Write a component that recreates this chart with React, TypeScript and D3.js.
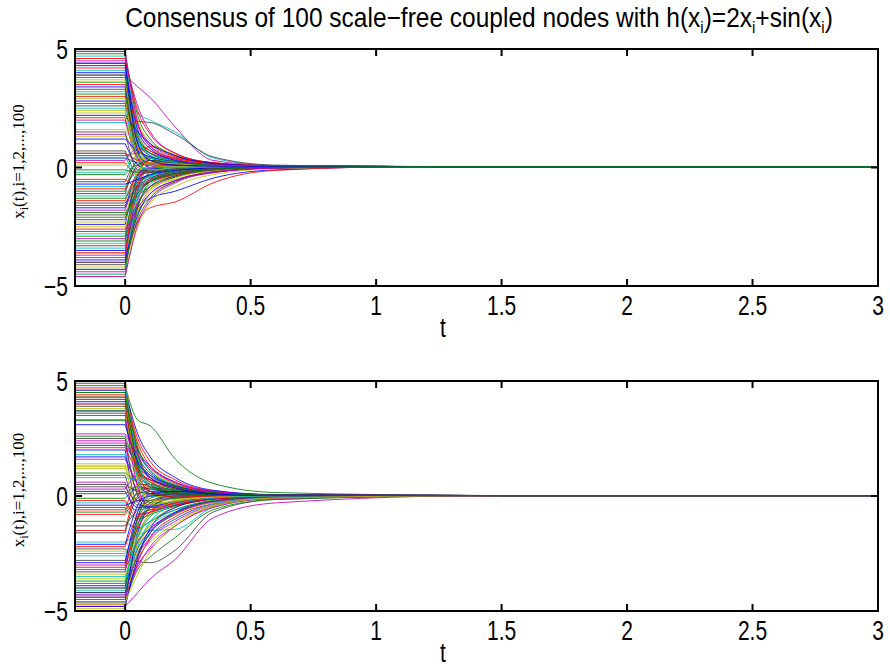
import React from 'react';
import * as d3 from 'd3';

const sampleTimes = [0, 0.05, 0.1, 0.2, 0.35, 0.6];
const xTicks = [0, 0.5, 1, 1.5, 2, 2.5, 3];
const yTicks = [-5, 0, 5];
// MATLAB's old default colour order
const lineColors = ['#0000ff', '#008000', '#ff0000', '#00bfbf', '#bf00bf', '#bfbf00', '#404040'];

const topConsensus = 0.04;
const topSettle = 1.2;
const bottomConsensus = 0.02;
const bottomSettle = 1.5;

// each row: x_i at t = 0, 0.05, 0.1, 0.2, 0.35, 0.6
const topNodes = [
  [-3.5, -1.9, -1.3, -1.0, -0.45, -0.1],
  [4.9, 1.2, 0.6, 0.3, 0.12, 0.05],
  [-4.0, -2.3, -1.7, -1.45, -0.65, -0.12],
  [3.2, 2.3, 2.0, 1.5, 0.4, 0.08],
  [3.9, 3.4, 2.95, 1.7, 0.3, 0.08],
  [-4.5, -2.5, -1.5, -0.8, -0.3, -0.05],
  [2.6, 1.95, 1.9, 1.4, 0.45, 0.1],
  [0.4, 0.2, 0.1, 0.05, 0.03, 0.03],
  [-2.9, -0.8, -0.3, -0.1, 0.0, 0.03],
  [2.1, 0.6, 0.9, 0.5, 0.2, 0.06],
  [-1.2, -0.4, -0.1, 0.05, 0.05, 0.04],
  [4.4, 1.8, 0.9, 0.4, 0.15, 0.06],
  [1.6, 0.9, 0.5, 0.2, 0.1, 0.05],
  [-0.6, 0.2, 0.15, 0.1, 0.05, 0.04],
  [-4.3, -1.6, -0.8, -0.35, -0.1, 0.0],
  [3.6, 0.4, -0.2, -0.1, 0.0, 0.03],
  [-2.6, -1.1, -0.6, -0.3, -0.1, 0.01],
  [0.6, -0.5, -0.4, -0.2, -0.05, 0.02],
  [-3.8, -1.3, -0.6, -0.25, -0.08, 0.01],
  [4.6, 2.0, 1.1, 0.55, 0.2, 0.07],
  [-1.6, -0.9, -0.5, -0.25, -0.08, 0.01],
  [2.8, 0.5, 0.2, 0.1, 0.05, 0.04],
  [-0.3, 0.1, 0.1, 0.06, 0.04, 0.04],
  [4.2, 1.4, 0.7, 0.35, 0.15, 0.06],
  [-3.2, -0.6, 0.1, 0.15, 0.08, 0.05],
  [1.4, 0.5, 0.3, 0.15, 0.08, 0.05],
  [-4.6, -2.1, -1.2, -0.6, -0.22, -0.03],
  [-2.2, -0.7, -0.35, -0.15, -0.04, 0.02],
  [3.4, 1.1, 0.5, 0.2, 0.1, 0.05],
  [-1.0, 0.3, 0.4, 0.2, 0.08, 0.05],
  [0.2, -0.3, -0.2, -0.1, 0.0, 0.03],
  [4.7, 1.5, 0.6, 0.2, 0.08, 0.05],
  [-3.0, -1.5, -0.9, -0.4, -0.12, 0.0],
  [2.3, 1.3, 0.8, 0.4, 0.15, 0.06],
  [-4.1, -1.0, -0.2, 0.1, 0.06, 0.04],
  [1.0, 0.1, -0.1, -0.05, 0.02, 0.03],
  [-1.9, -1.2, -0.8, -0.4, -0.12, 0.0],
  [3.0, 0.8, 0.3, 0.1, 0.05, 0.04],
  [-0.8, -0.1, 0.2, 0.15, 0.07, 0.05],
  [4.5, 2.6, 1.5, 0.6, 0.2, 0.07],
  [-3.6, -1.8, -1.0, -0.45, -0.15, 0.0],
  [0.5, 0.6, 0.4, 0.2, 0.08, 0.05],
  [-2.4, -0.5, -0.05, 0.1, 0.06, 0.04],
  [3.8, 1.0, 0.3, 0.05, 0.02, 0.03],
  [-1.4, -0.2, 0.3, 0.2, 0.08, 0.05],
  [2.5, 0.3, -0.3, -0.2, -0.05, 0.02],
  [-4.4, -1.4, -0.5, -0.1, 0.0, 0.03],
  [1.3, 0.7, 0.4, 0.2, 0.09, 0.05],
  [-3.3, -1.6, -0.8, -0.35, -0.1, 0.01],
  [4.0, 0.7, 0.0, -0.1, 0.0, 0.03],
  [-0.1, -0.2, -0.1, 0.0, 0.03, 0.04],
  [2.7, 1.2, 0.7, 0.4, 0.15, 0.06],
  [-2.8, -1.3, -0.7, -0.3, -0.08, 0.01],
  [0.3, 0.8, 0.6, 0.3, 0.1, 0.05],
  [-4.2, -1.9, -0.9, -0.3, -0.05, 0.02],
  [3.3, 0.9, 0.4, 0.2, 0.08, 0.05],
  [-1.7, -0.3, 0.0, 0.05, 0.04, 0.04],
  [4.8, 2.2, 1.2, 0.5, 0.18, 0.07],
  [-0.5, -0.8, -0.6, -0.3, -0.08, 0.01],
  [1.9, 1.0, 0.6, 0.3, 0.12, 0.05],
  [-3.7, -0.9, 0.0, 0.2, 0.1, 0.05],
  [0.1, 0.4, 0.3, 0.15, 0.07, 0.05],
  [-2.0, -1.0, -0.55, -0.25, -0.07, 0.01],
  [4.3, 1.6, 0.8, 0.3, 0.1, 0.05],
  [-1.3, -0.6, -0.3, -0.1, 0.0, 0.03],
  [3.5, 1.8, 1.0, 0.45, 0.17, 0.06],
  [-4.5, -1.2, -0.3, 0.0, 0.03, 0.04],
  [2.0, 0.4, 0.1, 0.05, 0.04, 0.04],
  [-2.5, -1.4, -0.9, -0.5, -0.18, -0.02],
  [0.7, -0.2, -0.2, -0.1, 0.0, 0.03],
  [-3.9, -2.0, -1.1, -0.55, -0.2, -0.02],
  [3.1, 0.6, 0.1, 0.0, 0.02, 0.03],
  [-0.9, 0.0, 0.2, 0.12, 0.06, 0.04],
  [4.1, 1.2, 0.5, 0.2, 0.09, 0.05],
  [-1.8, -0.4, 0.1, 0.12, 0.06, 0.04],
  [2.4, 0.2, -0.1, -0.05, 0.02, 0.03],
  [-4.0, -2.2, -1.3, -0.6, -0.2, -0.02],
  [1.2, 0.7, 0.45, 0.25, 0.1, 0.05],
  [-3.1, -0.3, 0.3, 0.2, 0.08, 0.05],
  [4.6, 2.4, 1.4, 0.6, 0.2, 0.07],
  [-0.2, 0.5, 0.4, 0.2, 0.08, 0.05],
  [-2.7, -1.7, -1.1, -0.55, -0.18, -0.01],
  [3.7, 0.9, 0.2, 0.05, 0.03, 0.04],
  [-1.1, 0.1, 0.3, 0.15, 0.07, 0.05],
  [2.2, 1.5, 1.0, 0.5, 0.18, 0.06],
  [-4.3, -1.7, -0.6, -0.15, 0.0, 0.03],
  [0.6, 0.3, 0.2, 0.1, 0.05, 0.04],
  [-3.4, -1.0, -0.4, -0.1, 0.02, 0.03],
  [4.9, 1.9, 0.9, 0.35, 0.12, 0.05],
  [-2.3, -0.2, 0.2, 0.15, 0.07, 0.05],
  [1.5, -0.1, -0.15, -0.05, 0.02, 0.03],
  [-0.7, -0.5, -0.3, -0.12, -0.02, 0.02],
  [3.9, 1.3, 0.6, 0.25, 0.1, 0.05],
  [-3.6, -0.7, 0.0, 0.1, 0.06, 0.04],
  [0.4, -0.1, 0.0, 0.03, 0.03, 0.04],
  [-4.6, -2.4, -1.4, -0.65, -0.22, -0.02],
  [2.9, 0.5, 0.1, 0.02, 0.03, 0.04],
  [-1.5, -0.8, -0.45, -0.2, -0.05, 0.02],
  [4.4, 1.0, 0.3, 0.1, 0.05, 0.04],
  [-2.1, -1.1, -0.6, -0.28, -0.08, 0.01],
];

const bottomNodes = [
  [4.1, 1.8, 1.0, 0.45, 0.15, 0.04],
  [4.8, 3.3, 3.05, 1.6, 0.55, 0.15],
  [-4.7, -2.9, -1.8, -0.9, -0.35, -0.08],
  [-2.0, -1.7, -1.5, -1.45, -0.5, -0.1],
  [-4.8, -4.2, -3.6, -2.75, -0.95, -0.3],
  [5.0, 2.2, 1.2, 0.5, 0.15, 0.04],
  [-2.3, -2.85, -2.9, -2.35, -0.7, -0.15],
  [1.7, 0.5, 0.1, -0.1, -0.05, 0.0],
  [-4.6, -3.2, -2.65, -1.8, -0.6, -0.15],
  [4.3, 1.2, 0.4, 0.1, 0.03, 0.02],
  [-0.3, -0.6, -0.5, -0.3, -0.1, 0.0],
  [2.4, 1.3, 0.8, 0.4, 0.14, 0.04],
  [-3.7, -2.1, -1.2, -0.6, -0.2, -0.03],
  [0.9, -0.4, -0.4, -0.2, -0.05, 0.01],
  [-4.2, -2.5, -1.6, -0.8, -0.28, -0.05],
  [3.3, 0.9, 0.2, -0.05, 0.0, 0.02],
  [-0.6, 0.5, 0.5, 0.3, 0.1, 0.03],
  [4.5, 2.0, 1.1, 0.5, 0.16, 0.04],
  [-3.0, -1.2, -0.4, 0.0, 0.03, 0.02],
  [1.3, 1.0, 0.7, 0.35, 0.12, 0.04],
  [-4.4, -1.8, -0.8, -0.3, -0.08, 0.0],
  [2.0, -0.3, -0.5, -0.3, -0.08, 0.0],
  [-1.1, -1.4, -1.1, -0.6, -0.2, -0.03],
  [4.7, 1.5, 0.6, 0.2, 0.06, 0.02],
  [-3.5, -2.0, -1.3, -0.7, -0.25, -0.04],
  [0.3, 0.9, 0.7, 0.4, 0.13, 0.04],
  [-4.9, -2.0, -0.9, -0.3, -0.07, 0.0],
  [3.6, 1.1, 0.4, 0.1, 0.03, 0.02],
  [-2.1, -0.4, 0.2, 0.25, 0.1, 0.03],
  [3.3, 1.6, 0.9, 0.4, 0.13, 0.04],
  [-0.8, -0.1, 0.1, 0.1, 0.05, 0.02],
  [4.0, 0.7, -0.3, -0.3, -0.08, 0.0],
  [-4.0, -2.6, -1.8, -1.0, -0.35, -0.06],
  [1.2, 0.3, 0.0, -0.05, 0.0, 0.02],
  [-3.3, -0.9, -0.1, 0.15, 0.07, 0.03],
  [2.2, 1.4, 0.9, 0.45, 0.15, 0.04],
  [-0.5, -1.0, -0.8, -0.45, -0.15, -0.02],
  [4.4, 2.5, 1.5, 0.7, 0.22, 0.05],
  [-4.3, -1.5, -0.3, 0.1, 0.05, 0.02],
  [0.6, -0.8, -0.7, -0.4, -0.12, -0.01],
  [-2.4, -1.9, -1.4, -0.8, -0.28, -0.05],
  [3.9, 1.3, 0.5, 0.15, 0.04, 0.02],
  [-3.9, -2.3, -1.5, -0.7, -0.22, -0.03],
  [1.0, 0.6, 0.4, 0.2, 0.07, 0.03],
  [-1.5, 0.2, 0.4, 0.25, 0.09, 0.03],
  [4.2, 0.8, 0.0, -0.1, -0.02, 0.01],
  [-4.5, -2.8, -1.9, -1.1, -0.4, -0.08],
  [1.4, 0.2, -0.3, -0.25, -0.07, 0.0],
  [-2.8, -1.0, -0.3, 0.0, 0.03, 0.02],
  [3.7, 2.0, 1.3, 0.6, 0.2, 0.05],
  [-0.1, 0.3, 0.3, 0.15, 0.06, 0.03],
  [4.9, 1.9, 0.7, 0.15, 0.04, 0.02],
  [-4.1, -2.2, -1.1, -0.4, -0.12, -0.01],
  [2.3, 0.1, -0.4, -0.3, -0.09, 0.0],
  [-3.4, -2.6, -2.0, -1.2, -0.4, -0.07],
  [0.4, -0.2, -0.2, -0.1, -0.02, 0.01],
  [-4.6, -1.6, -0.5, -0.05, 0.02, 0.02],
  [3.7, 1.7, 0.8, 0.3, 0.09, 0.03],
  [-2.2, -0.9, -0.6, -0.35, -0.12, -0.02],
  [1.8, 0.9, 0.5, 0.2, 0.07, 0.03],
  [-4.3, -3.1, -2.2, -1.3, -0.45, -0.09],
  [4.6, 1.0, 0.1, -0.1, -0.02, 0.01],
  [-1.6, 0.0, 0.35, 0.25, 0.09, 0.03],
  [0.2, -0.5, -0.45, -0.25, -0.08, 0.0],
  [-3.8, -1.3, -0.5, -0.1, 0.0, 0.02],
  [4.2, 2.3, 1.3, 0.55, 0.18, 0.05],
  [-2.5, -1.6, -1.1, -0.6, -0.2, -0.03],
  [1.6, 0.6, 0.2, 0.0, 0.01, 0.02],
  [-4.7, -2.4, -1.2, -0.5, -0.15, -0.02],
  [2.5, 0.0, -0.6, -0.4, -0.12, -0.01],
  [-0.4, -0.2, 0.0, 0.05, 0.03, 0.02],
  [4.5, 1.4, 0.5, 0.1, 0.03, 0.02],
  [-3.1, -1.4, -0.7, -0.3, -0.08, 0.0],
  [0.8, 0.7, 0.5, 0.25, 0.08, 0.03],
  [-4.4, -3.0, -2.3, -1.3, -0.5, -0.1],
  [3.8, 0.6, -0.2, -0.15, -0.04, 0.01],
  [-1.3, -0.6, -0.2, 0.0, 0.02, 0.02],
  [4.6, 2.7, 1.7, 0.8, 0.25, 0.06],
  [-4.0, -1.0, 0.0, 0.2, 0.08, 0.03],
  [2.1, 1.1, 0.7, 0.35, 0.11, 0.03],
  [-2.6, -2.2, -1.7, -1.0, -0.35, -0.06],
  [3.5, 0.4, -0.5, -0.4, -0.12, -0.01],
  [-3.6, -1.7, -0.8, -0.25, -0.05, 0.01],
  [0.1, 0.4, 0.3, 0.15, 0.05, 0.03],
  [-4.8, -2.7, -1.4, -0.5, -0.13, -0.01],
  [2.6, 1.2, 0.6, 0.25, 0.08, 0.03],
  [-0.2, -0.9, -0.7, -0.4, -0.13, -0.02],
  [4.9, 1.6, 0.4, 0.0, 0.01, 0.02],
  [-3.2, -2.0, -1.4, -0.75, -0.25, -0.04],
  [1.3, -0.3, -0.4, -0.2, -0.05, 0.01],
  [-4.2, -2.6, -1.6, -0.75, -0.22, -0.03],
  [3.1, 1.5, 0.8, 0.35, 0.11, 0.03],
  [-0.7, 0.1, 0.2, 0.12, 0.05, 0.02],
  [4.0, 1.0, 0.2, -0.05, 0.0, 0.02],
  [-3.7, -1.8, -0.9, -0.35, -0.09, 0.0],
  [2.7, 1.8, 1.2, 0.6, 0.2, 0.05],
  [-4.6, -3.4, -2.4, -1.3, -0.45, -0.09],
  [0.5, 0.2, 0.1, 0.05, 0.03, 0.02],
  [-2.9, -0.7, 0.1, 0.2, 0.08, 0.03],
  [4.3, 2.1, 1.1, 0.45, 0.14, 0.04],
];

const W = 890;
const H = 668;
const left = 75;
const right = 878;
const sans = "'Liberation Sans', Arial, sans-serif";
const serif = "'Liberation Serif', 'Times New Roman', serif";

// the figure's text is drawn a bit taller than it is wide
function Label({ x, y, anchor = 'middle', size, stretch = 1.3, children }) {
  return (
    <text transform={`translate(${x},${y}) scale(1,${stretch})`} textAnchor={anchor}
      fontFamily={sans} fontSize={size}>
      {children}
    </text>
  );
}

function Panel({ id, nodes, top, bottom, consensus, settle }) {
  const x = d3.scaleLinear().domain([-0.2, 3]).range([left, right]);
  const y = d3.scaleLinear().domain([-5, 5]).range([bottom, top]);
  const curve = d3.line<[number, number]>()
    .x(d => x(d[0]))
    .y(d => y(d[1]))
    .curve(d3.curveMonotoneX);
  const tick = 7;

  const paths = nodes.map((row, i) => {
    const pts: [number, number][] = sampleTimes.map((t, k) => [t, row[k]]);
    pts.push([settle, consensus], [3, consensus]);
    // flat initial condition on [-0.2, 0], then the transient
    const d = `M${x(-0.2)},${y(row[0])}` + curve(pts).replace(/^M/, 'L');
    return <path key={i} d={d} fill="none" stroke={lineColors[i % 7]} strokeWidth={1} strokeOpacity={0.85} />;
  });

  return (
    <g>
      <defs>
        <clipPath id={id}>
          <rect x={left} y={top} width={right - left} height={bottom - top} />
        </clipPath>
      </defs>
      <g clipPath={`url(#${id})`}>{paths}</g>
      <rect x={left} y={top} width={right - left} height={bottom - top}
        fill="none" stroke="#000" strokeWidth={2} />
      {xTicks.map(t => (
        <g key={t}>
          <line x1={x(t)} x2={x(t)} y1={bottom} y2={bottom - tick} stroke="#000" strokeWidth={2} />
          <line x1={x(t)} x2={x(t)} y1={top} y2={top + tick} stroke="#000" strokeWidth={2} />
          <Label x={x(t)} y={bottom + 29} size={21}>{t}</Label>
        </g>
      ))}
      {yTicks.map(v => (
        <g key={v}>
          <line x1={left} x2={left + tick} y1={y(v)} y2={y(v)} stroke="#000" strokeWidth={2} />
          <line x1={right} x2={right - tick} y1={y(v)} y2={y(v)} stroke="#000" strokeWidth={2} />
          <Label x={68} y={y(v) + 10} anchor="end" size={21}>
            {v < 0 ? '\u2212' + Math.abs(v) : v}
          </Label>
        </g>
      ))}
      <Label x={443} y={bottom + 51} size={21}>t</Label>
      <text transform={`translate(24,${(top + bottom) / 2 - 6}) rotate(-90)`} textAnchor="middle"
        fontFamily={serif} fontSize={17}>
        x<tspan fontSize={12} dy={4}>i</tspan><tspan dy={-4}>(t),i=1,2,...,100</tspan>
      </text>
    </g>
  );
}

export default function App() {
  return (
    <svg width={W} height={H} style={{ position: 'absolute', left: 0, top: 0, background: '#fff' }}>
      <rect width={W} height={H} fill="#fff" />
      <Label x={479} y={27} size={24.5} stretch={1.12}>
        Consensus of 100 scale{'\u2212'}free coupled nodes with h(x<tspan fontSize={15} dy={5}>i</tspan>
        <tspan dy={-5}>)=2x</tspan><tspan fontSize={15} dy={5}>i</tspan>
        <tspan dy={-5}>+sin(x</tspan><tspan fontSize={15} dy={5}>i</tspan><tspan dy={-5}>)</tspan>
      </Label>
      <Panel id="clipTop" nodes={topNodes} top={49} bottom={286}
        consensus={topConsensus} settle={topSettle} />
      <Panel id="clipBottom" nodes={bottomNodes} top={381} bottom={611}
        consensus={bottomConsensus} settle={bottomSettle} />
    </svg>
  );
}
